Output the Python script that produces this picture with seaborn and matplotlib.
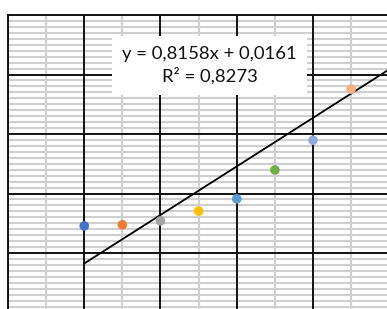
import matplotlib
matplotlib.use("Agg")
import matplotlib.pyplot as plt
import seaborn as sns
import pandas as pd
import numpy as np
from matplotlib.ticker import MultipleLocator

# data
point_x = [2, 3, 4, 5, 6, 7, 8, 9]
point_y = [2.91, 2.95, 3.08, 3.41, 3.82, 4.79, 5.79, 7.51]
point_colors = ["#4472C4", "#ED7D31", "#A5A5A5", "#FFC000",
                "#5B9BD5", "#70AD47", "#8FAADC", "#F4B183"]

# trendline as printed on the chart
slope = 0.8158
intercept = 0.0161
trend_x = [2, 10]
trend_label = "y = 0,8158x + 0,0161\nR² = 0,8273"

df = pd.DataFrame({"x": point_x, "y": point_y, "pt": range(len(point_x))})
trend = pd.DataFrame({"x": trend_x, "y": [slope * v + intercept for v in trend_x]})

sns.set_style("white")
plt.rcParams["font.family"] = ["Lato", "DejaVu Sans"]

fig = plt.figure(figsize=(3.87, 3.09), dpi=100)
ax = fig.add_axes([8 / 387, 0, 1 - 8 / 387, 1 - 15 / 309])

xmax = 379 / 38.125
ymin = 10 - 294 / 29.75

# minor grid in light gray, major lines in black on top of it
ax.xaxis.set_minor_locator(MultipleLocator(1))
ax.yaxis.set_minor_locator(MultipleLocator(0.2))
ax.grid(which="minor", color="#cfcfcf", linewidth=1.5)
ax.set_axisbelow(True)
for v in np.arange(0, xmax, 2):
    ax.axvline(v, color="#111111", linewidth=1.4, zorder=1)
for v in np.arange(2, 10, 2):
    ax.axhline(v, color="#111111", linewidth=1.4, zorder=1)

sns.lineplot(data=trend, x="x", y="y", color="black", linewidth=1.3, ax=ax, zorder=3)
sns.scatterplot(data=df, x="x", y="y", hue="pt", palette=point_colors,
                s=48, edgecolor="none", legend=False, ax=ax, zorder=4)

ax.text(5.29, 8.31, trend_label, ha="center", va="center", fontsize=13.3,
        linespacing=1.4, color="#111111", zorder=5,
        bbox=dict(boxstyle="square,pad=0.55", facecolor="white", edgecolor="none"))

ax.set_xlim(0, xmax)
ax.set_ylim(ymin, 10)
ax.set_xlabel("")
ax.set_ylabel("")
ax.tick_params(which="both", length=0, labelbottom=False, labelleft=False)
for side in ["top", "left"]:
    ax.spines[side].set_color("#111111")
    ax.spines[side].set_linewidth(1.4)
for side in ["right", "bottom"]:
    ax.spines[side].set_visible(False)

fig.savefig("out.png", dpi=100)
